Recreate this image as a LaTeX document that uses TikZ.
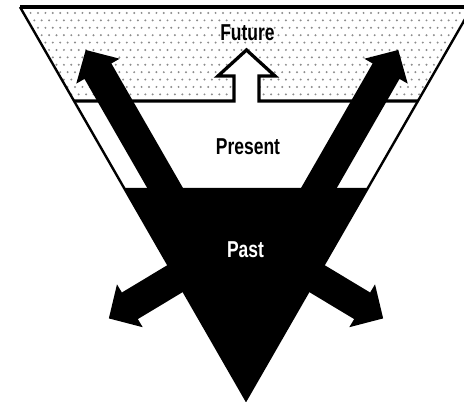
\documentclass[tikz,border=0pt]{standalone}
\usepackage{fontspec}
\newfontfamily\labelfont{Liberation Sans}[FakeStretch=0.76]
\usepackage{tikz}
\newcommand{\blockarrow}[3]{%
  \fill[shift={(#1)}, rotate=#2] (0,-15.5) -- ({#3-24.5},-15.5) -- ({#3-24.5},-25)
    -- (#3,0) -- ({#3-24.5},25) -- ({#3-24.5},15.5) -- (0,15.5) -- cycle;}

\begin{document}
\begin{tikzpicture}[x=1pt, y=1pt,
  edge/.style={line width=2.4pt},
  band/.style={line width=3.3pt, line join=miter},
  lbl/.style={font=\labelfont\bfseries\fontsize{23}{25}\selectfont}]
  \useasboundingbox (0,0) rectangle (464,402);
  \clip (0,0) rectangle (464,402);
  % funnel corners
  \coordinate (topL) at (20,395);
  \coordinate (topR) at (472,395);
  \coordinate (apex) at (246,2);
  \coordinate (futL) at (74,301);
  \coordinate (futR) at (418.1,301);
  \coordinate (pastL) at (124.1,214);
  \coordinate (pastR) at (367.9,214);
  % future band, dotted
  \begin{scope}
    \clip (topL) -- (topR) -- (futR) -- (futL) -- cycle;
    \foreach \j in {0,...,13}
      \foreach \i in {0,...,63}
        \fill[black!45] ({1+7.4*\i+3.7*mod(\j,2)},{389-7.4*\j}) circle (1.1);
  \end{scope}
  % past
  \fill (pastL) -- (pastR) -- (apex) -- cycle;
  % outline
  \draw[edge] (topL) -- (apex) -- (topR);
  \draw[line width=3.8pt] (topL) -- (topR);
  % band line and hollow arrow
  \fill[white] (234,301) -- (234,326) -- (218,326) -- (246.5,352) -- (275,326)
    -- (259,326) -- (259,301) -- cycle;
  \draw[band] (futL) -- (234,301) -- (234,326) -- (218,326) -- (246.5,352)
    -- (275,326) -- (259,326) -- (259,301) -- (futR);
  % arrows
  \coordinate (oldL) at (190.4,170);
  \coordinate (oldR) at (293.6,170);
  \coordinate (core) at (246,166);
  \blockarrow{oldL}{119.9}{210}
  \blockarrow{oldR}{60.1}{210}
  \blockarrow{core}{211}{160}
  \blockarrow{core}{-31}{160}
  % labels
  \node[lbl] (future) at (247.5,369.5) {Future};
  \node[lbl] (present) at (248,255) {Present};
  \node[lbl, text=white] (past) at (245.5,152) {Past};
\end{tikzpicture}
\end{document}
